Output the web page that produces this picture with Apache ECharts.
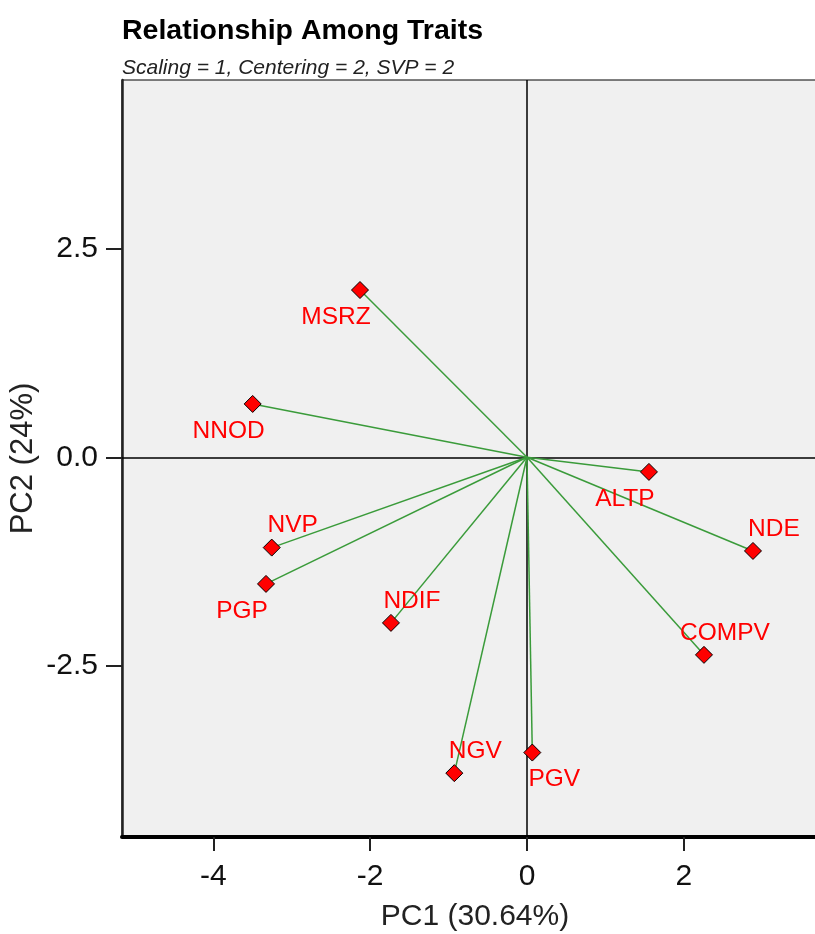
<!DOCTYPE html>
<html>
<head>
<meta charset="utf-8">
<script src="https://cdn.jsdelivr.net/npm/echarts@6/dist/echarts.min.js"></script>
<style>
html,body{margin:0;padding:0;background:#fff;}
#chart{width:815px;height:934px;}
</style>
</head>
<body>
<div id="chart"></div>
<script>
// ---- data ----
const traits = ['MSRZ', 'NNOD', 'NVP', 'PGP', 'NDIF', 'NGV', 'PGV', 'ALTP', 'NDE', 'COMPV'];
const pc1 = [-2.130, -3.499, -3.256, -3.329, -1.735, -0.927, 0.068, 1.556, 2.883, 2.258];
const pc2 = [2.008, 0.640, -1.085, -1.521, -1.989, -3.793, -3.546, -0.176, -1.125, -2.373];
const xTicks = [-4, -2, 0, 2];
const yTicks = [-2.5, 0, 2.5];
const titleText = 'Relationship Among Traits';
const subtitleText = 'Scaling = 1, Centering = 2, SVP = 2';
const xName = 'PC1 (30.64%)';
const yName = 'PC2 (24%)';

// ---- label placement (style) ----
const side = {
  MSRZ: 'bl', NNOD: 'bl', PGP: 'bl', ALTP: 'bl',
  NVP: 'tr', NDIF: 'tr', NGV: 'tr', NDE: 'tr', COMPV: 'tr',
  PGV: 'br'
};
const offsets = { bl: [-24, 27], tr: [21, -22], br: [22, 27] };

const FONT = '"Liberation Sans", Arial, sans-serif';
const chart = echarts.init(document.getElementById('chart'), null, { renderer: 'canvas' });

const vectorSeries = traits.map((t, i) => ({
  type: 'line',
  name: t + '-vec',
  data: [[0, 0], [pc1[i], pc2[i]]],
  symbol: 'none',
  silent: true,
  z: 3,
  lineStyle: { color: '#3a9b3a', width: 1.5 }
}));

const pointSeries = {
  type: 'scatter',
  z: 5,
  symbol: 'diamond',
  symbolSize: 17,
  itemStyle: { color: '#ff0000', borderColor: '#000', borderWidth: 1, opacity: 1 },
  data: traits.map((t, i) => ({
    name: t,
    value: [pc1[i], pc2[i]],
    label: {
      show: true,
      position: 'inside',
      offset: offsets[side[t]],
      formatter: t,
      color: '#ff0000',
      fontFamily: FONT,
      fontSize: 24.5
    }
  })),
  markLine: {
    silent: true,
    symbol: 'none',
    label: { show: false },
    lineStyle: { color: '#000', width: 1.5, type: 'solid' },
    data: [{ xAxis: 0 }, { yAxis: 0 }],
    z: 2
  }
};

chart.setOption({
  backgroundColor: '#fff',
  animation: false,
  title: [
    { text: titleText, left: 122, top: 17, padding: 0,
      textStyle: { fontFamily: FONT, fontSize: 28.5, fontWeight: 'bold', color: '#000' } },
    { text: subtitleText, left: 122, top: 58, padding: 0,
      textStyle: { fontFamily: FONT, fontSize: 21, fontStyle: 'italic', fontWeight: 'normal', color: '#222' } }
  ],
  grid: {
    left: 122, top: 80, right: -13, bottom: 97,
    outerBoundsMode: 'none', containLabel: false,
    show: true, backgroundColor: '#f0f0f0', borderColor: '#000', borderWidth: 1
  },
  xAxis: {
    type: 'value', min: -5.166, max: 3.84,
    name: xName, nameLocation: 'middle', nameGap: 65, nameMoveOverlap: false,
    nameTextStyle: { fontFamily: FONT, fontSize: 30, color: '#222' },
    axisLine: { show: true, onZero: false, lineStyle: { color: '#000', width: 4 } },
    axisTick: { show: true, length: 14, customValues: xTicks, lineStyle: { color: '#222', width: 2 } },
    axisLabel: { customValues: xTicks, margin: 25, fontFamily: FONT, fontSize: 30, color: '#111',
      formatter: v => String(v) },
    splitLine: { show: false }
  },
  yAxis: {
    type: 'value', min: -4.56, max: 4.53,
    name: yName, nameLocation: 'middle', nameGap: 83, nameRotate: 90, nameMoveOverlap: false,
    nameTextStyle: { fontFamily: FONT, fontSize: 31, color: '#222' },
    axisLine: { show: true, onZero: false, lineStyle: { color: '#222', width: 2.5 } },
    axisTick: { show: true, length: 16, customValues: yTicks, lineStyle: { color: '#222', width: 2 } },
    axisLabel: { customValues: yTicks, margin: 24, fontFamily: FONT, fontSize: 30, color: '#111',
      formatter: v => v.toFixed(1) },
    splitLine: { show: false }
  },
  series: vectorSeries.concat([pointSeries])
});
</script>
</body>
</html>
